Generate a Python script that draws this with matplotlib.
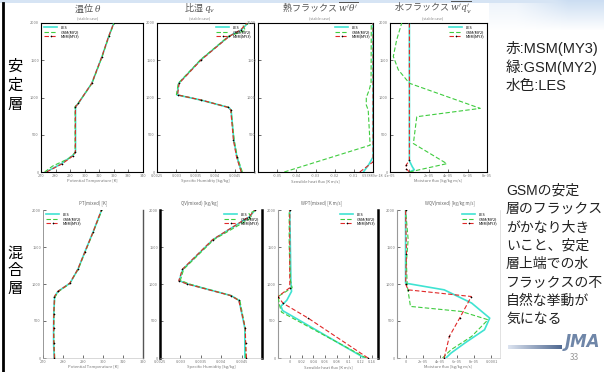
import matplotlib.pyplot as plt
import numpy as np
from matplotlib.lines import Line2D
from matplotlib.ticker import FuncFormatter

plt.rcParams['font.family'] = ['Noto Sans CJK JP', 'DejaVu Sans']
plt.rcParams['mathtext.fontset'] = 'dejavuserif'

W, H = 604, 372

# ---- stable layer case (top row) ----
z_th_stb_les = [0, 112, 225, 270, 876, 921, 1191, 1551, 1820, 2000]
th_stb_les = [273.5, 284, 292, 293.7, 293.7, 295.6, 304.9, 311.9, 316.5, 320]
z_th_stb_gsm = [0, 80, 180, 260, 880, 930, 1190, 1550, 1820, 2000]
th_stb_gsm = [272.5, 278, 289, 293.4, 293.4, 295.8, 305, 312, 316.6, 320.2]
z_th_stb_msm = [0, 110, 220, 270, 870, 920, 1190, 1550, 1820, 2000]
th_stb_msm = [273.8, 284.5, 292.2, 293.6, 293.6, 295.5, 304.8, 311.8, 316.4, 320]

z_q_stb_les = [0, 202, 427, 831, 866, 966, 1034, 1191, 1506, 1820, 1910, 2000]
q_stb_les = [0.00468, 0.00456, 0.00448, 0.00441, 0.00435, 0.00363, 0.00302, 0.00306,
             0.00363, 0.00435, 0.00468, 0.00484]
z_q_stb_gsm = [0, 202, 427, 831, 870, 970, 1040, 1191, 1506, 1820, 1900, 1960, 2000]
q_stb_gsm = [0.00470, 0.00457, 0.00449, 0.00441, 0.00434, 0.00360, 0.00300, 0.00305,
             0.00362, 0.00434, 0.00478, 0.00472, 0.00488]
z_q_stb_msm = [0, 202, 427, 831, 866, 966, 1034, 1191, 1506, 1820, 1910, 2000]
q_stb_msm = [0.00467, 0.00455, 0.00447, 0.00440, 0.00434, 0.00364, 0.00303, 0.00307,
             0.00364, 0.00436, 0.00466, 0.00482]

z_wt_stb_les = [0, 100, 200, 2000]
wt_stb_les = [-0.005, -0.0022, 0.0, 0.0]
z_wt_stb_gsm = [0, 360, 830, 900, 1000, 1100, 1200, 2000]
wt_stb_gsm = [-0.0463, -0.0015, -0.0025, -0.0035, -0.0035, -0.002, -0.001, -0.0009]
z_wt_stb_msm = [0, 135, 2000]
wt_stb_msm = [-0.0069, 0.0, 0.0]

z_wq_stb_les = [0, 30, 70, 150, 2000]
wq_stb_les = [0.0, 0.5e-5, 0.3e-5, 0.0, 0.0]
z_wq_stb_gsm = [0, 112, 382, 742, 854, 1191, 1371, 1551, 1775, 2000]
wq_stb_gsm = [0.0, 3.86e-5, 0.41e-5, 0.76e-5, 7.3e-5, 0.0, -1.14e-5, -1.66e-5, -1.31e-5, -0.79e-5]
z_wq_stb_msm = [0, 40, 90, 157, 2000]
wq_stb_msm = [0.0, -0.3e-5, -0.35e-5, 0.0, 0.0]

# ---- mixed layer case (bottom row) ----
z_th_mix_les = [0, 200, 400, 600, 830, 900, 1011, 1200, 1438, 1700, 2000]
th_mix_les = [275.6, 275.3, 275.3, 275.4, 275.8, 277.5, 283.5, 287.5, 291, 295, 299.3]
z_th_mix_gsm = [0, 200, 400, 600, 820, 900, 1000, 1200, 1440, 1700, 2000]
th_mix_gsm = [275.9, 275.5, 275.4, 275.5, 275.9, 277.8, 283.2, 287.6, 291.2, 295.1, 299.5]
z_th_mix_msm = [0, 200, 400, 600, 830, 900, 1011, 1200, 1438, 1700, 2000]
th_mix_msm = [275.7, 275.4, 275.3, 275.4, 275.7, 277.4, 283.4, 287.4, 291, 295, 299.2]

z_q_mix_les = [0, 400, 778, 844, 1000, 1044, 1200, 1600, 1911, 2000]
q_mix_les = [0.00458, 0.00458, 0.00444, 0.00424, 0.00318, 0.00297, 0.00306, 0.0038, 0.0047, 0.00483]
z_q_mix_gsm = [0, 400, 770, 840, 1000, 1050, 1200, 1600, 1900, 1950, 2000]
q_mix_gsm = [0.00460, 0.00459, 0.00446, 0.00426, 0.00322, 0.00300, 0.00308, 0.00382, 0.00476, 0.00468, 0.00486]
z_q_mix_msm = [0, 200, 400, 778, 844, 1000, 1044, 1200, 1600, 1911, 2000]
q_mix_msm = [0.00462, 0.00460, 0.00459, 0.00443, 0.00423, 0.00316, 0.00296, 0.00305, 0.00379, 0.00469, 0.00482]

z_wt_mix_les = [0, 640, 700, 780, 900, 1000, 2000]
wt_mix_les = [0.127, -0.012, -0.015, -0.005, 0.003, 0.002, 0.0]
z_wt_mix_gsm = [0, 620, 700, 830, 950, 1050, 1500, 2000]
wt_mix_gsm = [0.13, -0.014, -0.017, -0.02, 0.004, 0.001, -0.001, -0.001]
z_wt_mix_msm = [0, 540, 740, 830, 950, 2000]
wt_mix_msm = [0.133, 0.031, -0.0115, -0.02, 0.0, 0.0]

z_wq_mix_les = [0, 67, 202, 382, 539, 742, 921, 1011, 2000]
wq_mix_les = [4.7e-5, 5.3e-5, 6.9e-5, 9.2e-5, 9.8e-5, 7.7e-5, 4.5e-5, 0.0, 0.0]
z_wq_mix_gsm = [0, 112, 292, 517, 629, 697, 989, 1300, 1600, 2000]
wq_mix_gsm = [4.3e-5, 5.3e-5, 7.7e-5, 9.6e-5, 6.5e-5, 0.57e-5, 0.18e-5, 0.1e-5, 0.3e-5, 0.0]
z_wq_mix_msm = [0, 292, 539, 831, 921, 1000, 1400, 2000]
wq_mix_msm = [4.5e-5, 5.1e-5, 6.3e-5, 7.66e-5, 0.3e-5, 0.0, 0.1e-5, 0.0]

labels = ['LES', 'GSM(MY2)', 'MSM(MY3)']

fig = plt.figure(figsize=(W / 100, H / 100), dpi=100)


def px_axes(x0, y0, x1, y1):
    return fig.add_axes([x0 / W, 1 - y1 / H, (x1 - x0) / W, (y1 - y0) / H])


# slide background: light blue band at the top, fading on the right
yy = np.arange(H)[:, None]
xx = np.arange(W)[None, :]
fade = np.clip(1 - yy / 30, 0, 1) * (xx > 488) * np.clip((xx - 488) / 80, 0.35, 1)
fade = np.maximum(fade, (yy < 3) * 0.8)
blue = np.array([0.80, 0.87, 0.95])
bg = 1 - fade[..., None] * (1 - blue)
# logo underline gradient
g = np.clip((xx[0, 508:562] - 508) / 54, 0, 1)[:, None]
bg[345:349, 508:562] = (1 - g) * np.array([0.86, 0.89, 0.94]) + g * np.array([0.30, 0.40, 0.56])
bg_ax = px_axes(0, 0, W, H)
bg_ax.imshow(bg, aspect='auto', interpolation='nearest')
bg_ax.axis('off')

fig.add_artist(Line2D([3 / W, 3 / W], [0, 1 - 3 / H], color='black', lw=2, transform=fig.transFigure))

gfmt = FuncFormatter(lambda v, pos: f"{v:g}")


def draw_panel(ax, les, gsm, msm, xlim, xticks, legend_loc, xlabel):
    ax.plot(les[1], les[0], color='#3fe3d2', lw=1.2, label=labels[0], zorder=3)
    ax.plot(gsm[1], gsm[0], color='#3fcc3f', lw=0.8, ls=(0, (4, 2)), label=labels[1], zorder=4)
    ax.plot(msm[1], msm[0], color='#e02828', lw=0.8, ls=(0, (4, 2)), marker='+', ms=1.8,
            mec='black', mew=0.4, label=labels[2], zorder=5)
    ax.set_xlim(*xlim)
    ax.set_ylim(0, 2000)
    ax.set_xticks(xticks)
    ax.set_yticks([0, 500, 1000, 1500, 2000])
    ax.xaxis.set_major_formatter(gfmt)
    ax.tick_params(direction='in', length=2, width=0.4, labelsize=2.8, labelcolor='#777', pad=1.5)
    ax.set_xlabel(xlabel, fontsize=3, color='#777', labelpad=1)
    ax.legend(loc=legend_loc, fontsize=2.8, frameon=False, handlelength=3.5, labelspacing=0.1,
              borderaxespad=0.3)
    ax.set_facecolor('none')


# top row (stable)
top = [
    ((41, 23, 143, 172), (z_th_stb_les, th_stb_les), (z_th_stb_gsm, th_stb_gsm), (z_th_stb_msm, th_stb_msm),
     (270, 340), np.arange(270, 341, 10), 'upper left', 'Potential Temperature [K]'),
    ((157, 23, 254, 172), (z_q_stb_les, q_stb_les), (z_q_stb_gsm, q_stb_gsm), (z_q_stb_msm, q_stb_msm),
     (0.0025, 0.005), np.arange(0.0025, 0.00451, 0.0005), 'upper right', 'Specific Humidity [kg/kg]'),
    ((258, 23, 373, 172), (z_wt_stb_les, wt_stb_les), (z_wt_stb_gsm, wt_stb_gsm), (z_wt_stb_msm, wt_stb_msm),
     (-0.06, 0.0), np.arange(-0.05, 0.001, 0.01), 'upper right', 'Sensible heat flux [K m/s]'),
    ((390, 23, 487, 172), (z_wq_stb_les, wq_stb_les), (z_wq_stb_gsm, wq_stb_gsm), (z_wq_stb_msm, wq_stb_msm),
     (-2e-5, 8e-5), np.arange(-2e-5, 8.1e-5, 2e-5), 'upper right', 'Moisture flux [kg/kg m/s]'),
]
for box, les, gsm, msm, xlim, xticks, loc, xl in top:
    ax = px_axes(*box)
    draw_panel(ax, les, gsm, msm, xlim, xticks, loc, xl)
    for sp in ax.spines.values():
        sp.set_linewidth(0.8)

# bottom row (mixed)
bottom = [
    ((43, 210, 143, 358), (z_th_mix_les, th_mix_les), (z_th_mix_gsm, th_mix_gsm), (z_th_mix_msm, th_mix_msm),
     (270, 320), np.arange(270, 321, 10), 'upper left', 'Potential Temperature [K]'),
    ((160, 210, 262, 358), (z_q_mix_les, q_mix_les), (z_q_mix_gsm, q_mix_gsm), (z_q_mix_msm, q_mix_msm),
     (0.0025, 0.005), np.arange(0.0025, 0.00451, 0.0005), 'upper right', 'Specific Humidity [kg/kg]'),
    ((278, 210, 378, 358), (z_wt_mix_les, wt_mix_les), (z_wt_mix_gsm, wt_mix_gsm), (z_wt_mix_msm, wt_mix_msm),
     (-0.02, 0.15), np.arange(0.0, 0.141, 0.02), 'upper right', 'Sensible heat flux [K m/s]'),
    ((397, 210, 500, 358), (z_wq_mix_les, wq_mix_les), (z_wq_mix_gsm, wq_mix_gsm), (z_wq_mix_msm, wq_mix_msm),
     (-1e-5, 1.1e-4), np.arange(0.0, 1.01e-4, 2e-5), 'upper right', 'Moisture flux [kg/kg m/s]'),
]
spine_style = [('#888', 0.6, '#555', 1.0), ('black', 1.8, 'black', 1.8),
               ('#999', 0.8, 'black', 1.8), ('#999', 0.8, '#ccc', 0.4)]
for (box, les, gsm, msm, xlim, xticks, loc, xl), (lc, lw_l, rc, lw_r) in zip(bottom, spine_style):
    ax = px_axes(*box)
    draw_panel(ax, les, gsm, msm, xlim, xticks, loc, xl)
    ax.spines['top'].set_visible(False)
    ax.spines['bottom'].set_color('#bbb')
    ax.spines['bottom'].set_linewidth(0.4)
    ax.spines['left'].set_color(lc)
    ax.spines['left'].set_linewidth(lw_l)
    ax.spines['right'].set_color(rc)
    ax.spines['right'].set_linewidth(lw_r)

# panel titles
top_titles = [(88, '温位 $\\theta$'), (200, '比湿 $q_v$'),
              (320, "熱フラックス $\\overline{w'\\theta'}$"), (433, "水フラックス $\\overline{w'q_v'}$")]
for x, t in top_titles:
    fig.text(x / W, 1 - 8 / H, t, fontsize=6.5, color='#555', ha='center', va='center')
    fig.text(x / W, 1 - 18.5 / H, '(stable case)', fontsize=2.6, color='#888', ha='center', va='center')

bottom_titles = [(93, 'PT(mixed) [K]'), (200, 'QV(mixed) [kg/kg]'),
                 (322, 'WPT(mixed) [K m/s]'), (450, 'WQV(mixed) [kg/kg m/s]')]
for x, t in bottom_titles:
    fig.text(x / W, 1 - 204 / H, t, fontsize=3.2, color='#666', ha='center', va='center')

# row labels
for y, ch in zip([66, 85, 104], '安定層'):
    fig.text(15 / W, 1 - y / H, ch, fontsize=11, ha='center', va='center', color='black')
for y, ch in zip([253, 271, 289], '混合層'):
    fig.text(15 / W, 1 - y / H, ch, fontsize=11, ha='center', va='center', color='black')

# legend text on the right
side_font = ['Liberation Sans', 'Noto Sans CJK JP']
for y, t in zip([48, 67, 86], ['赤:MSM(MY3)', '緑:GSM(MY2)', '水色:LES']):
    fig.text(506 / W, 1 - y / H, t, fontsize=10.5, ha='left', va='center', color='#222', family=side_font)

notes = ['GSMの安定', '層のフラックス', 'がかなり大き', 'いこと、安定',
         '層上端での水', 'フラックスの不', '自然な挙動が', '気になる']
for i, t in enumerate(notes):
    fig.text(506 / W, 1 - (191 + i * 18.3) / H, t, fontsize=10, ha='left', va='center', color='#222',
             family=side_font)

fig.text(583 / W, 1 - 342 / H, 'JMA', fontsize=12, fontweight='bold', fontstyle='italic',
         family='DejaVu Sans', color='#6f86a8', ha='center', va='center')
fig.text(574 / W, 1 - 357 / H, '33', fontsize=6, color='#999', ha='center', va='center')

fig.savefig('out.png', dpi=100)
